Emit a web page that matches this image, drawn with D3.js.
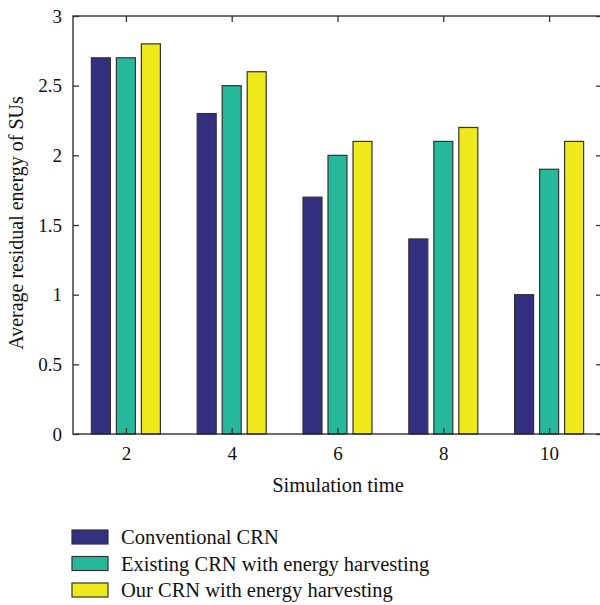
<!DOCTYPE html>
<html>
<head>
<meta charset="utf-8">
<script src="https://cdn.jsdelivr.net/npm/d3@7"></script>
<style>
  body { margin: 0; background: #fff; }
  svg text { font-family: "Liberation Serif", "DejaVu Serif", serif; fill: #111; }
</style>
</head>
<body>
<script>
const w = 600;
const h = 605;

const times = [2, 4, 6, 8, 10];
const conventional = [2.7, 2.3, 1.7, 1.4, 1.0];
const existing = [2.7, 2.5, 2.0, 2.1, 1.9];
const ours = [2.8, 2.6, 2.1, 2.2, 2.1];
const yTicks = [0, 0.5, 1, 1.5, 2, 2.5, 3];

const seriesNames = ["Conventional CRN", "Existing CRN with energy harvesting", "Our CRN with energy harvesting"];
const colors = ["#352f80", "#26b89b", "#efe81a"];
const series = [conventional, existing, ours];

const serif = '"Liberation Serif", "DejaVu Serif", serif';
const plotLeft = 73, plotRight = 602, plotTop = 16, plotBottom = 434;

const svg = d3.select("body").append("svg").attr("width", w).attr("height", h);

const xScale = d3.scaleLinear().domain([1, 11]).range([plotLeft, plotRight]);
const yScale = d3.scaleLinear().domain([0, 3]).range([plotBottom, plotTop]);

// offsets of the three bars inside a group
const offset = d3.scaleBand().domain([0, 1, 2]).range([-35, 35]).paddingInner(0.2);

const barsGroup = svg.append("g");
series.forEach(function (vals, s) {
  barsGroup.selectAll(".bar-" + s)
    .data(vals)
    .enter()
    .append("rect")
    .attr("x", function (d, i) { return xScale(times[i]) + offset(s) + 0.5; })
    .attr("y", function (d) { return yScale(d); })
    .attr("width", offset.bandwidth() - 1)
    .attr("height", function (d) { return plotBottom - yScale(d); })
    .attr("fill", colors[s])
    .attr("stroke", "#333")
    .attr("stroke-width", 1.2);
});

// frame
svg.append("rect")
  .attr("x", plotLeft).attr("y", plotTop)
  .attr("width", plotRight - plotLeft).attr("height", plotBottom - plotTop)
  .attr("fill", "none").attr("stroke", "#222").attr("stroke-width", 1.3);

function styleAxis(g) {
  g.attr("font-family", serif);
  g.select(".domain").remove();
  g.selectAll("line").attr("stroke", "#333").attr("stroke-width", 1.3);
  g.selectAll("text")
    .style("font-family", serif)
    .style("font-size", "19px")
    .style("fill", "#111");
}

const xAxis = d3.axisBottom(xScale).tickValues(times).tickSizeInner(-6).tickSizeOuter(0).tickPadding(13).tickFormat(d => d);
svg.append("g").attr("transform", "translate(0," + plotBottom + ")").call(xAxis).call(styleAxis);

const xTop = d3.axisTop(xScale).tickValues(times).tickSizeInner(-6).tickSizeOuter(0).tickFormat("");
svg.append("g").attr("transform", "translate(0," + plotTop + ")").call(xTop).call(styleAxis);

const yAxis = d3.axisLeft(yScale).tickValues(yTicks).tickSizeInner(-6).tickSizeOuter(0).tickPadding(11).tickFormat(d => d);
svg.append("g").attr("transform", "translate(" + plotLeft + ",0)").call(yAxis).call(styleAxis);

const yRight = d3.axisRight(yScale).tickValues(yTicks).tickSizeInner(-6).tickSizeOuter(0).tickFormat("");
svg.append("g").attr("transform", "translate(" + plotRight + ",0)").call(yRight).call(styleAxis);

svg.append("text")
  .attr("x", 338)
  .attr("y", 492)
  .attr("text-anchor", "middle")
  .style("font-size", "20.5px")
  .text("Simulation time");

svg.append("text")
  .attr("transform", "translate(23,223)rotate(-90)")
  .attr("text-anchor", "middle")
  .style("font-size", "20px")
  .text("Average residual energy of SUs");

// legend
const legend = svg.append("g");
seriesNames.forEach(function (name, s) {
  const ly = 530 + s * 26.5;
  legend.append("rect")
    .attr("x", 72).attr("y", ly)
    .attr("width", 36).attr("height", 14)
    .attr("fill", colors[s]).attr("stroke", "#333").attr("stroke-width", 1.2);
  legend.append("text")
    .attr("x", 121).attr("y", ly + 14)
    .style("font-size", "20.5px")
    .text(name);
});
</script>
</body>
</html>
